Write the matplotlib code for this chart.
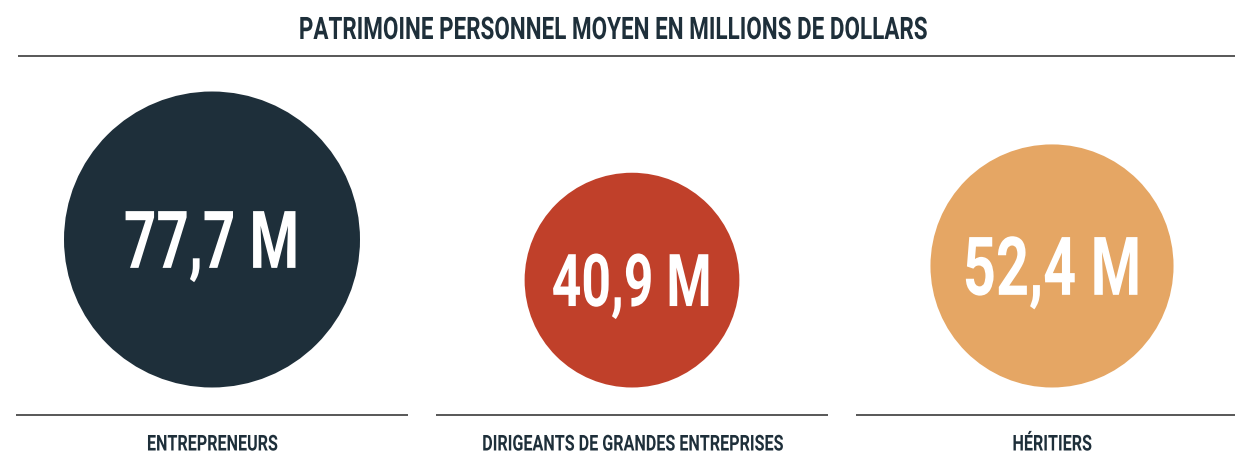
import numpy as np
import matplotlib
matplotlib.use("Agg")
import matplotlib.pyplot as plt
from matplotlib.patches import Circle
from matplotlib.patheffects import AbstractPathEffect
from matplotlib.transforms import Affine2D

# data
categories = ["ENTREPRENEURS", "DIRIGEANTS DE GRANDES ENTREPRISES", "HÉRITIERS"]
values = [77.7, 40.9, 52.4]
value_labels = ["77,7 M", "40,9 M", "52,4 M"]
title = "PATRIMOINE PERSONNEL MOYEN EN MILLIONS DE DOLLARS"

# style
colors = ["#1E2F3A", "#C0402A", "#E5A664"]
value_sizes = [57.5, 52.5, 58.5]
text_color = "#1E2F3A"
line_color = "#4A4A4A"
family = "Roboto"


class Squeeze(AbstractPathEffect):
    """Narrow the glyphs horizontally around the text centre (no condensed font installed)."""

    def __init__(self, sx=0.71):
        super().__init__()
        self.sx = sx

    def draw_path(self, renderer, gc, tpath, affine, rgbFace=None):
        ext = tpath.get_extents(affine)
        cx = (ext.x0 + ext.x1) / 2
        aff = affine + Affine2D().translate(-cx, 0).scale(self.sx, 1).translate(cx, 0)
        renderer.draw_path(gc, tpath, aff, rgbFace)


W, H = 1235, 456
fig = plt.figure(figsize=(W / 100, H / 100), dpi=100)
ax = fig.add_axes([0, 0, 1, 1])
ax.set_xlim(0, W)
ax.set_ylim(H, 0)
ax.axis("off")

# title + rule
ax.text(614, 40, title, ha="center", va="baseline", fontsize=22.3,
        fontweight="bold", color=text_color, family=family, path_effects=[Squeeze(0.725)])
ax.plot([18, W], [57, 57], color=line_color, lw=1.3, solid_capstyle="butt")

max_r = 148
bottom = 388.5
pitch = 420
first = 212
half = 196

for i, (cat, v, lab) in enumerate(zip(categories, values, value_labels)):
    cx = first + i * pitch
    r = max_r * np.sqrt(v / max(values))
    cy = bottom - r
    ax.add_patch(Circle((cx, cy), r, color=colors[i], lw=0))
    fs = value_sizes[i]
    cap = fs * 100 / 72 * 0.711
    ax.text(cx, cy + cap / 2, lab, ha="center", va="baseline", fontsize=fs,
            fontweight="bold", color="white", family=family, path_effects=[Squeeze(0.71)])
    ax.plot([cx - half, min(cx + half, W)], [416, 416], color=line_color, lw=1.3,
            solid_capstyle="butt")
    ax.text(cx, 451.5, cat, ha="center", va="baseline", fontsize=15.7,
            fontweight="bold", color=text_color, family=family, path_effects=[Squeeze(0.74)])

fig.savefig("out.png", dpi=100)
